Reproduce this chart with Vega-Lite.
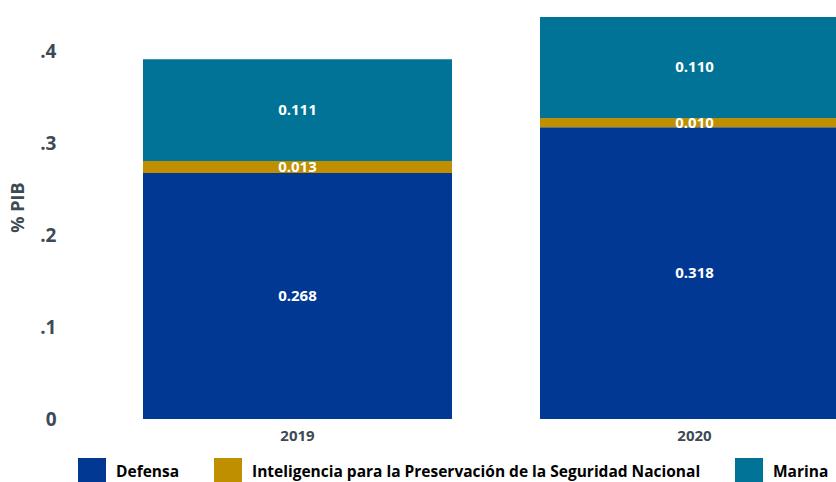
{
  "$schema": "https://vega.github.io/schema/vega-lite/v6.json",
  "autosize": {"type": "none"},
  "padding": {"left": 62, "top": 6, "right": 0, "bottom": 63},
  "width": 774,
  "height": 413,
  "background": "white",
  "config": {"view": {"stroke": null}, "font": "Open Sans"},
  "data": {"values": [
    {"year": "2019", "category": "Defensa", "ord": 1, "value": 0.268},
    {"year": "2019", "category": "Inteligencia para la Preservación de la Seguridad Nacional", "ord": 2, "value": 0.013},
    {"year": "2019", "category": "Marina", "ord": 3, "value": 0.111},
    {"year": "2020", "category": "Defensa", "ord": 1, "value": 0.318},
    {"year": "2020", "category": "Inteligencia para la Preservación de la Seguridad Nacional", "ord": 2, "value": 0.010},
    {"year": "2020", "category": "Marina", "ord": 3, "value": 0.110}
  ]},
  "transform": [
    {"stack": "value", "groupby": ["year"], "sort": [{"field": "ord"}], "as": ["v0", "v1"]},
    {"calculate": "(datum.v0 + datum.v1) / 2", "as": "mid"}
  ],
  "encoding": {
    "x": {
      "field": "year", "type": "nominal", "title": null,
      "scale": {"range": [0, 868], "paddingInner": 0.2217, "paddingOuter": 0.204},
      "axis": {"domain": false, "ticks": false, "labelAngle": 0, "labelFontSize": 15, "labelFontWeight": "bold", "labelColor": "#3d4a55", "labelPadding": 9}
    }
  },
  "layer": [
    {
      "mark": {"type": "bar", "clip": true},
      "encoding": {
        "y": {
          "field": "v0", "type": "quantitative", "title": "% PIB",
          "scale": {"domain": [0, 0.45], "nice": false},
          "axis": {"values": [0, 0.1, 0.2, 0.3, 0.4], "grid": false, "domain": false, "ticks": false,
            "labelExpr": "datum.value == 0 ? '0' : substring(format(datum.value, '.1f'), 1)",
            "labelFontSize": 19, "labelFontWeight": "bold", "labelColor": "#3d4a55", "labelPadding": 6,
            "titleFontSize": 18, "titleFontWeight": "bold", "titleColor": "#3d4a55",
            "titleX": -44, "titleY": 201, "titleAngle": -90, "titleAlign": "center", "titleBaseline": "middle"}
        },
        "y2": {"field": "v1"},
        "color": {
          "field": "category", "type": "nominal",
          "sort": ["Defensa", "Inteligencia para la Preservación de la Seguridad Nacional", "Marina"],
          "scale": {"domain": ["Defensa", "Inteligencia para la Preservación de la Seguridad Nacional", "Marina"], "range": ["#003893", "#BF8F00", "#007396"]},
          "legend": {"title": null, "orient": "none", "direction": "horizontal", "legendX": 16, "legendY": 452,
            "symbolType": "square", "symbolSize": 784, "symbolStrokeWidth": 0, "symbolOpacity": 1,
            "labelFontSize": 15.5, "labelFontWeight": "bold", "labelColor": "#000000", "labelLimit": 600,
            "columnPadding": 34, "labelOffset": 10}
        }
      }
    },
    {
      "mark": {"type": "text", "color": "white", "fontSize": 15, "fontWeight": "bold", "baseline": "middle"},
      "encoding": {
        "y": {"field": "mid", "type": "quantitative"},
        "text": {"field": "value", "type": "quantitative", "format": ".3f"}
      }
    }
  ]
}
